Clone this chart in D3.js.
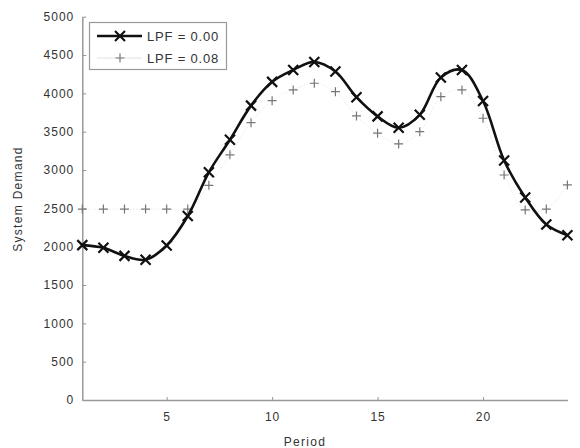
<!DOCTYPE html>
<html>
<head>
<meta charset="utf-8">
<script src="https://cdn.jsdelivr.net/npm/d3@7"></script>
<style>
body { margin: 0; background: #fff; }
text { font-family: "Liberation Sans", Arial, sans-serif; fill: #333; }
</style>
</head>
<body>
<div id="chart"></div>
<script>
const WIDTH = 580
const HEIGHT = 448

const periods = d3.range(1, 25)
const lpf000 = [2020, 1985, 1880, 1830, 2015, 2400, 2970, 3395, 3840, 4150, 4305, 4410,
                4285, 3950, 3700, 3552, 3720, 4208, 4305, 3900, 3125, 2642, 2290, 2150]
const lpf008 = [2490, 2490, 2490, 2490, 2490, 2490, 2800, 3198, 3618, 3905, 4045, 4132,
                4022, 3705, 3480, 3340, 3500, 3957, 4045, 3675, 2935, 2480, 2490, 2805]
const xTicks = [5, 10, 15, 20]
const yTicks = d3.range(0, 5001, 500)
const legendLabels = ["LPF = 0.00", "LPF = 0.08"]

const margin = {left: 82.3, right: WIDTH - 567.4, top: 16.7, bottom: HEIGHT - 400}

const svg = d3.select("#chart")
    .append("svg")
    .attr("width", WIDTH)
    .attr("height", HEIGHT)

const x = d3.scaleLinear().domain([1, 24]).range([margin.left, WIDTH - margin.right])
const y = d3.scaleLinear().domain([0, 5000]).range([HEIGHT - margin.bottom, margin.top])

// axes
const xAxis = svg.append("g")
    .attr("transform", `translate(0,${y(0)})`)
    .call(d3.axisBottom(x).tickValues(xTicks).tickFormat(d3.format("d"))
        .tickSizeInner(-3).tickSizeOuter(0).tickPadding(12))
const yAxis = svg.append("g")
    .attr("transform", `translate(${x(1)},0)`)
    .call(d3.axisLeft(y).tickValues(yTicks).tickFormat(d3.format("d"))
        .tickSizeInner(-4).tickSizeOuter(0).tickPadding(8))

for (const g of [xAxis, yAxis]) {
    g.select(".domain").attr("stroke", "#999").attr("stroke-width", 1.5)
    g.selectAll(".tick line").attr("stroke", "#999")
    g.selectAll(".tick text")
        .attr("fill", "#333")
        .style("font-size", "12px")
        .style("letter-spacing", "1px")
        .style("font-family", "Liberation Sans, Arial, sans-serif")
}

svg.append("text")
    .attr("x", 305)
    .attr("y", 446)
    .attr("text-anchor", "middle")
    .style("font-size", "12px")
    .style("letter-spacing", "1.3px")
    .text("Period")

svg.append("text")
    .attr("transform", "translate(22,199) rotate(-90)")
    .attr("text-anchor", "middle")
    .style("font-size", "12px")
    .style("letter-spacing", "1.3px")
    .text("System Demand")

const smooth = d3.line()
    .x((d, i) => x(periods[i]))
    .y(d => y(d))
    .curve(d3.curveCatmullRom.alpha(0.5))

// LPF = 0.08 (faint dotted line with plus markers)
svg.append("path")
    .datum(lpf008)
    .attr("d", smooth)
    .attr("fill", "none")
    .attr("stroke", "#e2e2e2")
    .attr("stroke-width", 1)
    .attr("stroke-dasharray", "1,2")

function plus(sel, size) {
    sel.append("path")
        .attr("d", `M${-size},0H${size}M0,${-size}V${size}`)
        .attr("stroke", "#777")
        .attr("stroke-width", 1.2)
        .attr("fill", "none")
}

function cross(sel, size) {
    sel.append("path")
        .attr("d", `M${-size},${-size}L${size},${size}M${-size},${size}L${size},${-size}`)
        .attr("stroke", "#111")
        .attr("stroke-width", 2.2)
        .attr("fill", "none")
}

svg.selectAll(".p008")
    .data(lpf008)
    .enter()
    .append("g")
    .attr("class", "p008")
    .attr("transform", (d, i) => `translate(${x(periods[i])},${y(d)})`)
    .call(plus, 4.5)

// LPF = 0.00 (thick black line with x markers)
svg.append("path")
    .datum(lpf000)
    .attr("d", smooth)
    .attr("fill", "none")
    .attr("stroke", "#111")
    .attr("stroke-width", 2.6)

svg.selectAll(".p000")
    .data(lpf000)
    .enter()
    .append("g")
    .attr("class", "p000")
    .attr("transform", (d, i) => `translate(${x(periods[i])},${y(d)})`)
    .call(cross, 5)

// legend
const legend = svg.append("g")
legend.append("rect")
    .attr("x", 89.5)
    .attr("y", 22.5)
    .attr("width", 137)
    .attr("height", 47)
    .attr("fill", "#fff")
    .attr("stroke", "#999")
    .attr("stroke-width", 1.2)

legend.append("line")
    .attr("x1", 97).attr("x2", 142).attr("y1", 36).attr("y2", 36)
    .attr("stroke", "#111").attr("stroke-width", 2.6)
legend.append("g").attr("transform", "translate(120,36)").call(cross, 5)
legend.append("line")
    .attr("x1", 97).attr("x2", 142).attr("y1", 58).attr("y2", 58)
    .attr("stroke", "#e2e2e2").attr("stroke-width", 1)
legend.append("g").attr("transform", "translate(120,58)").call(plus, 4.5)

legend.selectAll(".ltext")
    .data(legendLabels)
    .enter()
    .append("text")
    .attr("class", "ltext")
    .attr("x", 147)
    .attr("y", (d, i) => 40.5 + i * 22)
    .style("font-size", "13px")
    .style("letter-spacing", "0.8px")
    .text(d => d)
</script>
</body>
</html>
